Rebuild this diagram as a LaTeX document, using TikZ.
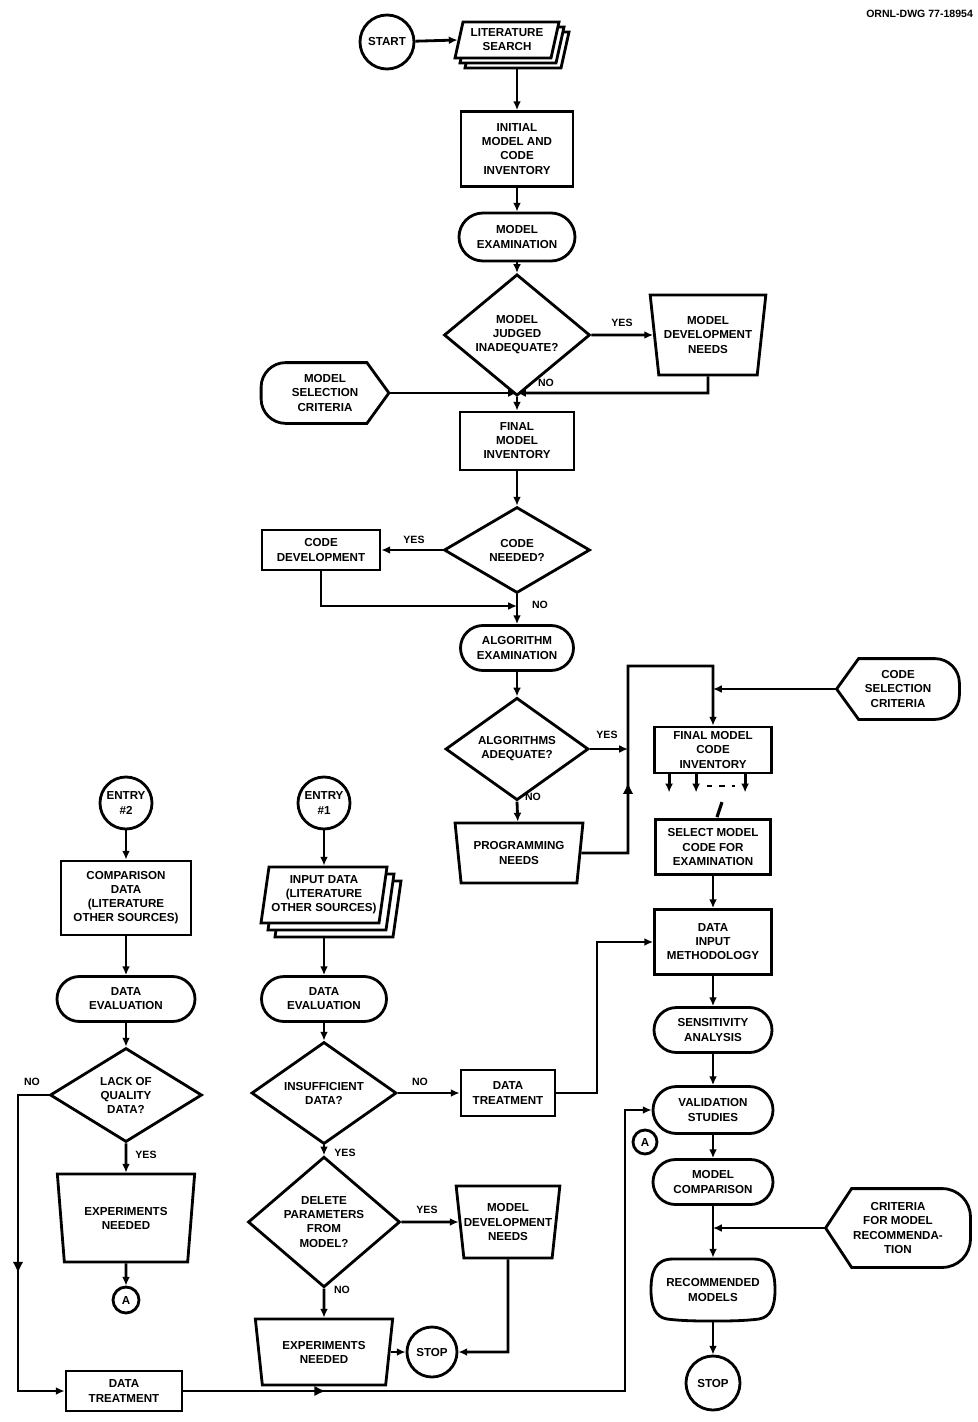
\documentclass[tikz,border=0pt]{standalone}
\usepackage{fontspec}
\newfontfamily\labfont{Liberation Sans}
\usetikzlibrary{shapes.geometric,shapes.misc,arrows.meta,calc,decorations.markings}
\def\pxu{0.02cm}
\newcommand\stackdocs[5]{%
  \begin{scope}[shift={(#1,#2)}]
  \foreach \o in {2,1,0}{
    \draw[ln, fill=white] ({-#3/2+4+\o*#5},{-#4/2+\o*#5}) -- ({#3/2+4+\o*#5},{-#4/2+\o*#5})
      -- ({#3/2-4+\o*#5},{#4/2+\o*#5}) -- ({-#3/2-4+\o*#5},{#4/2+\o*#5}) -- cycle;}
  \end{scope}}
\tikzset{
  base/.style={font=\labfont\bfseries\fontsize{6.6}{8}\selectfont, align=center, inner sep=0pt, line width=1.6pt},
  sz/.style 2 args={minimum width=#1*\pxu, minimum height=#2*\pxu},
  procbox/.style={base, draw, rectangle},
  term/.style={base, draw, rounded rectangle},
  decis/.style={base, draw, diamond},
  manual/.style={base, draw, trapezium, shape border rotate=180, trapezium angle=78, trapezium stretches=true},
  conn/.style={base, draw, circle},
  plain/.style={base},
  lbl/.style={font=\labfont\bfseries\fontsize{6}{7}\selectfont, inner sep=1pt},
  ln/.style={line width=1.6pt},
  arr/.style={line width=1.6pt, -{Latex[length=5pt,width=4.5pt]}},
  midarr/.style={postaction={decorate}, decoration={markings, mark=at position #1 with {\arrow[line width=1.6pt]{Latex[length=6.5pt,width=6pt]}}}},
}
\begin{document}
\begin{tikzpicture}[x=0.02cm, y=-0.02cm]
\fill[white] (0,0) rectangle (977,1422);
\useasboundingbox (0,0) rectangle (977,1422);

% ---------- top chain ----------
\node[conn, sz={54}{54}] (start) at (387,42) {START};
\stackdocs{507}{40}{96}{36}{5}
\node[plain, sz={96}{36}] (lit) at (507,40) {LITERATURE\\SEARCH};
\coordinate (litbot) at ($(lit.south)+(10,10)$);
\node[procbox, sz={112}{75}] (inv) at (517,149) {INITIAL\\MODEL AND\\CODE\\INVENTORY};
\node[term, sz={116}{48}] (mex) at (517,237) {MODEL\\EXAMINATION};
\node[decis, sz={146}{86}] (d1) at (517,335) {MODEL\\JUDGED\\INADEQUATE?};
\node[manual, sz={116}{80}] (mdn) at (708,335) {MODEL\\DEVELOPMENT\\NEEDS};
\node[plain, sz={125}{58}] (msc) at (325,393) {MODEL\\SELECTION\\CRITERIA};
\draw[ln] (msc.east) -- ($(msc.north east)+(-22,0)$) [rounded corners=14pt] -- (msc.north west) -- (msc.south west) [sharp corners] -- ($(msc.south east)+(-22,0)$) -- cycle;
\coordinate (j1) at (517,393);
\node[procbox, sz={114}{58}] (fmi) at (517,441) {FINAL\\MODEL\\INVENTORY};
\node[decis, sz={146}{86}] (d2) at (517,550) {CODE\\NEEDED?};
\node[procbox, sz={118}{40}] (cd) at (321,550) {CODE\\DEVELOPMENT};
\coordinate (j2) at (517,606);
\node[term, sz={113}{45}] (aex) at (517,648) {ALGORITHM\\EXAMINATION};
\node[decis, sz={143}{90}] (d3) at (517,749) {ALGORITHMS\\ADEQUATE?};
\node[manual, sz={128}{60}] (pn) at (519,853) {PROGRAMMING\\NEEDS};
\coordinate (railR) at (628,666);

% ---------- right column ----------
\node[procbox, sz={117}{46}] (fmci) at (713,750) {FINAL MODEL\\CODE\\INVENTORY};
\node[plain, sz={120}{58}] (scs) at (898,689) {CODE\\SELECTION\\CRITERIA};
\draw[ln] (scs.west) -- ($(scs.north west)+(22,0)$) [rounded corners=14pt] -- (scs.north east) -- (scs.south east) [sharp corners] -- ($(scs.south west)+(22,0)$) -- cycle;
\node[procbox, sz={115}{55}] (smc) at (713,847) {SELECT MODEL\\CODE FOR\\EXAMINATION};
\node[procbox, sz={117}{65}] (dim) at (713,942) {DATA\\INPUT\\METHODOLOGY};
\node[term, sz={118}{45}] (sa) at (713,1030) {SENSITIVITY\\ANALYSIS};
\node[term, sz={120}{47}] (vs) at (713,1110) {VALIDATION\\STUDIES};
\node[conn, sz={24}{24}] (ca) at (645,1142) {A};
\node[term, sz={120}{45}] (mc) at (713,1182) {MODEL\\COMPARISON};
\node[plain, sz={142}{76}] (cmr) at (898,1228) {CRITERIA\\FOR MODEL\\RECOMMENDA-\\TION};
\draw[ln] (cmr.west) -- ($(cmr.north west)+(26,0)$) [rounded corners=16pt] -- (cmr.north east) -- (cmr.south east) [sharp corners] -- ($(cmr.south west)+(26,0)$) -- cycle;
\node[plain, sz={125}{62}] (rm) at (713,1290) {RECOMMENDED\\MODELS};
\begin{scope}[shift={(rm.center)}]
\draw[ln] (-40,-31) -- (40,-31) .. controls (58,-31) and (62,-18) .. (62,0)
  .. controls (62,16) and (58,27) .. (46,29) .. controls (30,31) and (15,31) .. (0,31)
  .. controls (-15,31) and (-30,31) .. (-46,29) .. controls (-58,27) and (-62,16) .. (-62,0)
  .. controls (-62,-18) and (-58,-31) .. (-40,-31) -- cycle;
\end{scope}
\node[conn, sz={54}{54}] (stopb) at (713,1383) {STOP};

% ---------- left column ----------
\node[conn, sz={52}{52}] (e2) at (126,803) {ENTRY\\\#2};
\node[procbox, sz={130}{74}] (cmp) at (126,898) {COMPARISON\\DATA\\(LITERATURE\\OTHER SOURCES)};
\node[term, sz={138}{45}] (de2) at (126,999) {DATA\\EVALUATION};
\node[decis, sz={152}{94}] (d4) at (126,1095) {LACK OF\\QUALITY\\DATA?};
\node[manual, sz={138}{88}] (en1) at (126,1218) {EXPERIMENTS\\NEEDED};
\node[conn, sz={26}{26}] (a1) at (126,1300) {A};
\node[procbox, sz={116}{40}] (dt1) at (124,1391) {DATA\\TREATMENT};
\coordinate (railL) at (18,1095);
\coordinate (railB) at (625,1391);

% ---------- middle column ----------
\node[conn, sz={52}{52}] (e1) at (324,803) {ENTRY\\\#1};
\stackdocs{324}{895}{118}{56}{7}
\node[plain, sz={118}{56}] (ind) at (324,895) {INPUT DATA\\(LITERATURE\\OTHER SOURCES)};
\coordinate (indbot) at ($(ind.south)+(7,14)$);
\node[term, sz={125}{45}] (de1) at (324,999) {DATA\\EVALUATION};
\node[decis, sz={145}{86}] (d5) at (324,1093) {INSUFFICIENT\\DATA?};
\node[procbox, sz={94}{46}] (dt2) at (508,1093) {DATA\\TREATMENT};
\coordinate (railM) at (597,1093);
\node[decis, sz={152}{104}] (d6) at (324,1222) {DELETE\\PARAMETERS\\FROM\\MODEL?};
\node[manual, sz={104}{72}] (mdn2) at (508,1222) {MODEL\\DEVELOPMENT\\NEEDS};
\node[manual, sz={138}{66}] (en2) at (324,1352) {EXPERIMENTS\\NEEDED};
\node[conn, sz={50}{50}] (stopa) at (432,1352) {STOP};

% ---------- labels ----------
\node[lbl] (y1) at (622,323) {YES};
\node[lbl] (n1) at (546,383) {NO};
\node[lbl] (y2) at (414,540) {YES};
\node[lbl] (n2) at (540,605) {NO};
\node[lbl] (y3) at (607,735) {YES};
\node[lbl] (n3) at (533,797) {NO};
\node[lbl] (n4) at (32,1082) {NO};
\node[lbl] (y4) at (146,1155) {YES};
\node[lbl] (n5) at (420,1082) {NO};
\node[lbl] (y5) at (345,1153) {YES};
\node[lbl] (y6) at (427,1210) {YES};
\node[lbl] (n6) at (342,1290) {NO};
\node[lbl, anchor=east] (dwg) at (975,14) {ORNL-DWG 77-18954};

% ---------- connectors ----------
\draw[arr] (start) -- (lit.west);
\draw[arr] (inv.north |- litbot) -- (inv.north);
\draw[arr] (inv.south) -- (mex.north);
\draw[arr] (mex.south) -- (d1.north);
\draw[arr] (d1.east) -- (mdn);
\draw[arr] (msc.east) -- (j1);
\draw[arr] (mdn) -- (mdn |- j1) -- (j1);
\draw[arr] (d1.south) -- (fmi.north);
\draw[arr] (fmi.south) -- (d2.north);
\draw[arr] (d2.west) -- (cd.east);
\draw[arr] (cd.south) -- (cd.south |- j2) -- (j2);
\draw[arr] (d2.south) -- (aex.north);
\draw[arr] (aex.south) -- (d3.north);
\draw[arr] (d3.south) -- (pn);
\draw[arr] (d3.east) -- (d3.east -| railR);
\draw[arr, midarr=0.31] (pn) -- (pn -| railR) -- (railR) -- (railR -| fmci.north) -- (fmci.north);
\draw[arr] (scs.west) -- (scs.west -| fmci.north);
\draw[arr] ($(fmci.south west)+(16,0)$) -- ++(0,18);
\draw[arr] ($(fmci.south west)+(43,0)$) -- ++(0,18);
\draw[arr] ($(fmci.south west)+(92,0)$) -- ++(0,18);
\draw[line width=1.2pt, dash pattern=on 3pt off 4pt] ($(fmci.south west)+(54,12)$) -- ++(28,0);
\draw[line width=1.8pt] ($(smc.north)+(4,-1)$) -- ++(5,-15);
\draw[arr] (smc.south) -- (dim.north);
\draw[arr] (dt2.east) -- (railM) -- (railM |- dim.west) -- (dim.west);
\draw[arr] (dim.south) -- (sa.north);
\draw[arr] (sa.south) -- (vs.north);
\draw[arr] (vs.south) -- (mc.north);
\coordinate (j3) at (mc.south |- cmr.west);
\draw[arr] (cmr.west) -- (j3);
\draw[arr] (mc.south) -- (rm.north);
\draw[arr] (rm.south) -- (stopb.north);

\draw[arr] (e2.south) -- (cmp.north);
\draw[arr] (cmp.south) -- (de2.north);
\draw[arr] (de2.south) -- (d4.north);
\draw[arr] (d4.south) -- (en1);
\draw[arr] (en1) -- (a1.north);
\draw[arr, midarr=0.56] (d4.west) -- (railL) -- (railL |- dt1.west) -- (dt1.west);
\draw[arr, midarr=0.19] (dt1.east) -- (railB) -- (railB |- vs.west) -- (vs.west);

\draw[arr] (e1.south) -- (ind.north);
\draw[arr] (de1.north |- indbot) -- (de1.north);
\draw[arr] (de1.south) -- (d5.north);
\draw[arr] (d5.east) -- (dt2.west);
\draw[arr] (d5.south) -- (d6.north);
\draw[arr] (d6.east) -- (mdn2);
\draw[arr] (d6.south) -- (en2);
\draw[arr] (en2) -- (stopa);
\draw[arr] (mdn2) -- (mdn2 |- stopa) -- (stopa);
\end{tikzpicture}
\end{document}
